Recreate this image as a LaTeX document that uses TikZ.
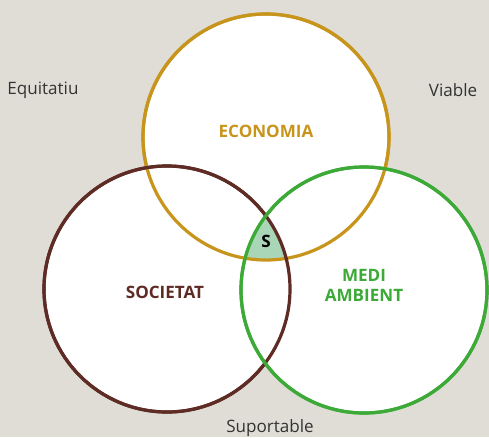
\documentclass[tikz,border=0pt]{standalone}
\usepackage{fontspec}
\setmainfont{Open Sans}
\usetikzlibrary{positioning}

\definecolor{bgsand}{HTML}{DFDDD6}
\definecolor{ecogold}{HTML}{C8951C}
\definecolor{socbrown}{HTML}{5E2C25}
\definecolor{medgreen}{HTML}{3DAA38}
\definecolor{sfill}{HTML}{A9D6B7}
\definecolor{side}{HTML}{333333}

\tikzset{
  ring/.style={line width=2.4pt, fill=white},
  title/.style={font=\bfseries\fontsize{12.8}{15}\selectfont, align=center},
  corner/.style={font=\fontsize{12.8}{15}\selectfont, text=side}
}

\begin{document}
\begin{tikzpicture}[x=0.75pt, y=-0.75pt]
          \fill[bgsand] (0,0) rectangle (489,437);
          \useasboundingbox (0,0) rectangle (489,437);

          % the three circles
          \coordinate (eco) at (266,137);
          \coordinate (soc) at (167,289);
          \coordinate (med) at (364,290);

          \filldraw[ring, draw=ecogold] (eco) circle[radius=92.25pt];
          \filldraw[ring, draw=socbrown] (soc) circle[radius=92.25pt];
          \filldraw[ring, draw=medgreen] (med) circle[radius=92.25pt];

          % common part
          \begin{scope}
            \clip (eco) circle[radius=92.25pt];
            \clip (soc) circle[radius=92.25pt];
            \fill[sfill] (med) circle[radius=92.25pt];
          \end{scope}

          \draw[line width=2.4pt, draw=ecogold] (eco) circle[radius=92.25pt];
          \draw[line width=2.4pt, draw=socbrown] (soc) circle[radius=92.25pt];
          \draw[line width=2.4pt, draw=medgreen] (med) circle[radius=92.25pt];

          \node[title, text=ecogold] (ecoL) at (266,131) {ECONOMIA};
          \node[title, text=socbrown] (socL) at (165,292) {SOCIETAT};
          \node[title, text=medgreen] (medL) at (364,285) {MEDI\\AMBIENT};
          \node[font=\bfseries\fontsize{12.8}{15}\selectfont] (sL) at (266,241) {S};

          \node[corner] (equi) at (43,90) {Equitatiu};
          \node[corner] (viab) at (453,90) {Viable};
          \node[corner] (supo) at (270,428) {Suportable};
\end{tikzpicture}
\end{document}
